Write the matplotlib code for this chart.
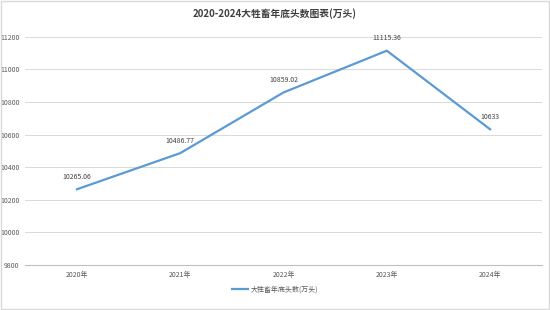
import matplotlib
matplotlib.use('Agg')
import matplotlib.pyplot as plt
from matplotlib.patches import Rectangle

plt.rcParams['font.family'] = ['Noto Sans CJK SC', 'DejaVu Sans']

years = ['2020年', '2021年', '2022年', '2023年', '2024年']
values = [10265.06, 10486.77, 10859.02, 11115.36, 10633]
labels = ['10265.06', '10486.77', '10859.02', '11115.36', '10633']
yticks = [9800, 10000, 10200, 10400, 10600, 10800, 11000, 11200]

fig = plt.figure(figsize=(5.5, 3.1), dpi=100)
ax = fig.add_axes([0.046, 0.145, 0.939, 0.736])

x = list(range(len(years)))
ax.plot(x, values, color='#5B9BD5', linewidth=1.6, label='大牲畜年底头数(万头)')
for xi, v, t in zip(x, values, labels):
    ax.annotate(t, (xi, v), xytext=(0, 6), textcoords='offset points',
                ha='center', va='bottom', fontsize=5, color='#404040')

ax.set_xlim(-0.5, 4.5)
ax.set_ylim(9800, 11200)
ax.set_yticks(yticks)
ax.set_xticks(x)
ax.set_xticklabels(years)
ax.tick_params(axis='both', length=0, labelsize=5, colors='#595959', pad=4)
ax.grid(axis='y', color='#D9D9D9', linewidth=0.7)
ax.set_axisbelow(True)
for s in ['top', 'right', 'left']:
    ax.spines[s].set_visible(False)
ax.spines['bottom'].set_color('#BFBFBF')
ax.spines['bottom'].set_linewidth(0.8)

fig.text(0.5, 0.955, '2020-2024大牲畜年底头数图表(万头)', ha='center', va='center',
         fontsize=7, fontweight='bold', color='#404040')
fig.legend(loc='center', bbox_to_anchor=(0.5, 0.065), frameon=False, fontsize=5,
           handlelength=2.2, handletextpad=0.4, labelcolor='#595959')

fig.patches.append(Rectangle((0.002, 0.003), 0.996, 0.994, transform=fig.transFigure,
                             fill=False, edgecolor='#D9D9D9', linewidth=1))

fig.savefig('out.png', dpi=100)
